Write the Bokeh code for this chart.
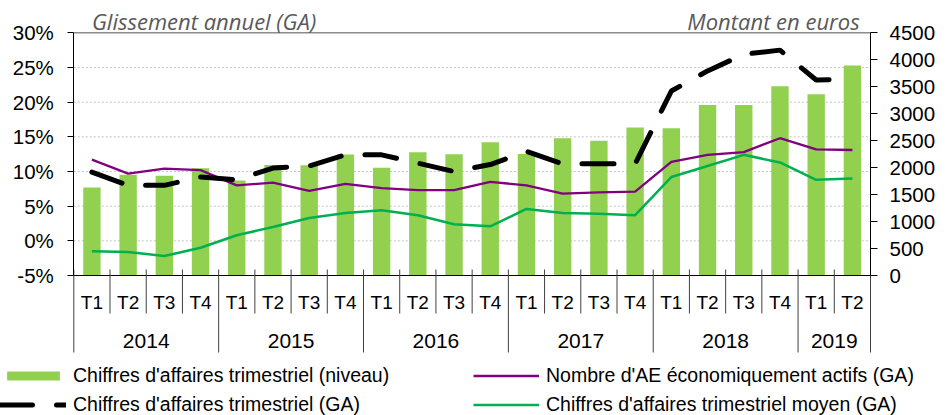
from bokeh.plotting import figure
from bokeh.models import Range1d, LinearAxis, FixedTicker, PrintfTickFormatter, Legend, LegendItem, Label
from bokeh.core.properties import value
from bokeh.embed import file_html
from bokeh.resources import INLINE

# ---------------- data ----------------
quarters = ["T1", "T2", "T3", "T4", "T1", "T2", "T3", "T4", "T1", "T2", "T3", "T4",
            "T1", "T2", "T3", "T4", "T1", "T2", "T3", "T4", "T1", "T2"]
years = ["2014"] * 4 + ["2015"] * 4 + ["2016"] * 4 + ["2017"] * 4 + ["2018"] * 4 + ["2019"] * 2

# Chiffres d'affaires trimestriel (niveau), euros -> right axis
ca_niveau = [1630, 1870, 1850, 1990, 1760, 2050, 2045, 2245, 2000, 2285, 2250,
             2470, 2255, 2545, 2500, 2745, 2730, 3160, 3160, 3510, 3360, 3895]
# Chiffres d'affaires trimestriel (GA), %
ca_ga = [9.9, 8.0, 8.0, 9.2, 8.8, 10.5, 10.8, 12.4, 12.4, 11.2, 10.0,
         11.0, 12.9, 11.1, 11.1, 11.1, 21.6, 24.5, 26.9, 27.5, 23.2, 23.3]
# Nombre d'AE économiquement actifs (GA), %
ae_ga = [11.7, 9.7, 10.4, 10.2, 8.0, 8.4, 7.2, 8.2, 7.6, 7.3, 7.3,
         8.5, 8.0, 6.8, 7.0, 7.1, 11.4, 12.4, 12.8, 14.8, 13.2, 13.1]
# Chiffres d'affaires trimestriel moyen (GA), %
ca_moy_ga = [-1.5, -1.6, -2.2, -1.0, 0.8, 2.0, 3.3, 4.0, 4.4, 3.7, 2.4,
             2.1, 4.6, 4.0, 3.9, 3.7, 9.2, 10.8, 12.4, 11.3, 8.8, 9.0]

left_ticks = [-5, 0, 5, 10, 15, 20, 25, 30]
right_ticks = [0, 500, 1000, 1500, 2000, 2500, 3000, 3500, 4000, 4500]
grid_ticks = [0, 5, 10, 15, 20, 25]

# ---------------- layout ----------------
W, H = 951, 415
PX_L, PX_R = 73.3, 870.0    # pixel columns of the plot area edges
PX_TOP, PX_BOT = 32.3, 275  # pixel rows of 30% and -5%
L_TOP, L_BOT = 30.0, -5.0
R_TOP, R_BOT = 4500.0, 0.0

n = len(quarters)
idx = list(range(n))
kx = n / (PX_R - PX_L)
k_l = (L_TOP - L_BOT) / (PX_BOT - PX_TOP)
k_r = (R_TOP - R_BOT) / (PX_BOT - PX_TOP)


def py(px):
    """pixel row -> left-axis data value"""
    return L_TOP - (px - PX_TOP) * k_l


x_range = Range1d(-0.5 - PX_L * kx, n - 0.5 + (W - PX_R) * kx)
y_range = Range1d(py(H), py(0))
r_range = Range1d(R_TOP - (H - PX_TOP) * k_r, R_TOP + PX_TOP * k_r)
X0, X1 = -0.5, n - 0.5

p = figure(width=W, height=H, output_backend="svg", toolbar_location=None,
           x_range=x_range, y_range=y_range,
           x_axis_location=None, y_axis_location=None,
           min_border=0, min_border_left=0, min_border_right=0,
           min_border_top=0, min_border_bottom=0)
p.outline_line_color = None
p.background_fill_color = "white"
p.border_fill_color = "white"
p.extra_y_ranges = {"eur": r_range}
p.xgrid.visible = False
p.ygrid.visible = False

TICK_FONT = "Liberation Sans"
left_axis = LinearAxis(fixed_location=X0, bounds=(L_BOT, L_TOP), ticker=FixedTicker(ticks=left_ticks),
                       formatter=PrintfTickFormatter(format="%d%%"),
                       major_tick_in=0, major_tick_out=6, minor_tick_in=0, minor_tick_out=0,
                       major_label_standoff=14, axis_line_color="black", major_tick_line_color="black",
                       major_label_text_font=TICK_FONT, major_label_text_font_size="20.5px",
                       major_label_text_color="black")
p.add_layout(left_axis, "left")
right_axis = LinearAxis(fixed_location=X1, y_range_name="eur", bounds=(R_BOT, R_TOP),
                        ticker=FixedTicker(ticks=right_ticks),
                        major_tick_in=0, major_tick_out=7, minor_tick_in=0, minor_tick_out=0,
                        major_label_standoff=12, axis_line_color="black", major_tick_line_color="black",
                        major_label_text_font=TICK_FONT, major_label_text_font_size="20.5px",
                        major_label_text_color="black")
p.add_layout(right_axis, "right")

# dotted horizontal grid
p.segment(x0=X0, x1=X1, y0=grid_ticks, y1=grid_ticks, line_color="#c4c4c4", line_width=1, line_dash="2 2")
# frame top border
p.segment(x0=X0, x1=X1, y0=L_TOP, y1=L_TOP, line_color="#8c8c8c", line_width=1.5)

# bars
bars = p.vbar(x=idx, top=ca_niveau, bottom=0, width=0.48, y_range_name="eur",
              fill_color="#92D050", line_color=None)
# bottom axis line
p.segment(x0=X0, x1=X1, y0=L_BOT, y1=L_BOT, line_color="black", line_width=1)

l_ae = p.line(idx, ae_ga, line_color="#800080", line_width=2.3)
l_moy = p.line(idx, ca_moy_ga, line_color="#00B050", line_width=2.5)
l_ga = p.line(idx, ca_ga, line_color="black", line_width=5, line_dash="32 24", line_cap="round")

# category axis (two levels)
sep_x, sep_y1 = [], []
for i in range(n + 1):
    sep_x.append(i - 0.5)
    boundary = i == 0 or i == n or years[i] != years[i - 1]
    sep_y1.append(py(352) if boundary else py(313))
p.segment(x0=sep_x, x1=sep_x, y0=py(269), y1=sep_y1, line_color="#404040", line_width=1)

p.text(x=idx, y=py(302), text=quarters, text_align="center", text_baseline="middle",
       text_font=value("Liberation Sans"), text_font_size="19px", text_color="black")

year_names = []
for y in years:
    if y not in year_names:
        year_names.append(y)
year_pos = []
for y in year_names:
    ii = [i for i in idx if years[i] == y]
    year_pos.append(sum(ii) / len(ii))
p.text(x=year_pos, y=py(340), text=year_names, text_align="center", text_baseline="middle",
       text_font=value("Liberation Sans"), text_font_size="21px", text_color="black")

# titles of the axes
p.add_layout(Label(x=0, y=py(20), text="Glissement annuel (GA)", text_font="Open Sans",
                   text_font_style="italic", text_font_size="22px", text_color="#595959",
                   text_baseline="alphabetic", text_align="left"))
p.add_layout(Label(x=21.2, y=py(20), text="Montant en euros", text_font="Open Sans",
                   text_font_style="italic", text_font_size="22px", text_color="#595959",
                   text_baseline="alphabetic", text_align="right"))

# legends
common = dict(background_fill_alpha=0, border_line_color=None, padding=0, margin=0, spacing=6,
              glyph_width=66, glyph_height=11, label_standoff=7, label_height=22,
              label_text_font="Liberation Sans", label_text_font_size="19.5px",
              label_text_color="black", orientation="vertical")
leg1 = Legend(items=[LegendItem(label="Chiffres d'affaires trimestriel (niveau)", renderers=[bars]),
                     LegendItem(label="Chiffres d'affaires trimestriel (GA)", renderers=[l_ga])],
              location=(0, -1), **common)
leg2 = Legend(items=[LegendItem(label="Nombre d'AE économiquement actifs (GA)", renderers=[l_ae]),
                     LegendItem(label="Chiffres d'affaires trimestriel moyen (GA)", renderers=[l_moy])],
              location=(473, -1), **common)
p.add_layout(leg1)
p.add_layout(leg2)

open("out.html", "w").write(file_html(p, INLINE))
